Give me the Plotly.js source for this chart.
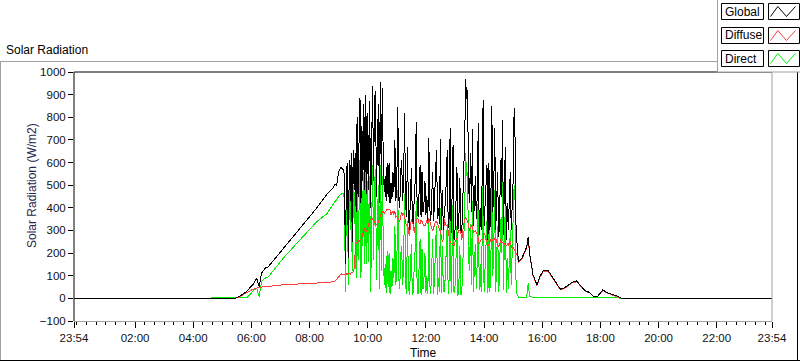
<!DOCTYPE html>
<html><head><meta charset="utf-8">
<script src="https://cdn.plot.ly/plotly-3.0.1.min.js"></script>
<style>html,body{margin:0;padding:0;background:#fff;}#chart{width:800px;height:361px;}
#chart .scatterlayer path{shape-rendering:crispEdges;}</style>
</head><body><div id="chart"></div>
<script>
// Time of day in minutes after midnight (23:54 of the previous day = -6)
const timeMinutes = [
 -6, 326,
 336, 350, 358, 363, 371, 376, 381, 388, 395, 426, 460, 495, 516, 529, 533, 536, 540, 545, 549, 552,
 554, 556, 558, 560, 562, 564, 566, 568, 570, 572,
 574, 576, 578, 580, 582, 584, 586, 588, 590, 592,
 594, 596, 598, 600, 602, 604, 606, 608, 610, 612,
 614, 616, 618, 620, 622, 624, 626, 628, 630, 632,
 634, 636, 638, 640, 642, 644, 646, 648, 650, 652,
 654, 656, 658, 660, 662, 664, 666, 668, 670, 672,
 674, 676, 678, 680, 682, 684, 686, 688, 690, 692,
 694, 696, 698, 700, 702, 704, 706, 708, 710, 712,
 714, 716, 718, 720, 722, 724, 726, 728, 730, 732,
 734, 736, 738, 740, 742, 744, 746, 748, 750, 752,
 754, 756, 758, 760, 762, 764, 766, 768, 770, 772,
 774, 776, 778, 780, 782, 784, 786, 788, 790, 792,
 794, 796, 798, 800, 802, 804, 806, 808, 810, 812,
 814, 816, 818, 820, 822, 824, 826, 828, 830, 832,
 834, 836, 838, 840, 842, 844, 846, 848, 850, 852,
 854, 856, 858, 860, 862, 864, 866, 868, 870, 872,
 874, 876, 878, 880, 882, 884, 886, 888, 890, 892,
 894, 896, 898, 900, 902, 904, 906, 908,
 911, 918, 925, 928, 931, 934, 941, 949, 955, 962, 973, 978, 986, 997, 1005,
 1014, 1021, 1031, 1038, 1048, 1058, 1066, 1074, 1085, 1093, 1104, 1114, 1124, 1434
];
const globalWm2 = [
 0, 0,
 10, 30, 50, 60, 89, 52, 111, 133, 140, 220, 310, 400, 460, 490, 505, 500, 560, 578, 570, 545,
 150, 560, 600, 180, 610, 430, 640, 250, 655, 480,
 640, 380, 803, 450, 690, 884, 420, 760, 520, 860,
 480, 900, 460, 820, 480, 870, 400, 700, 938, 520,
 880, 918, 450, 700, 860, 420, 957, 500, 930, 620,
 470, 540, 430, 600, 450, 598, 420, 510, 440, 560,
 470, 700, 430, 520, 847, 440, 400, 560, 610, 430,
 520, 818, 420, 360, 670, 380, 300, 450, 575, 360,
 330, 450, 520, 780, 380, 360, 450, 590, 360, 560,
 380, 420, 520, 370, 450, 340, 707, 400, 340, 480,
 560, 340, 420, 560, 656, 350, 400, 330, 705, 300,
 480, 300, 380, 420, 520, 655, 310, 360, 751, 290,
 450, 678, 260, 300, 420, 582, 300, 350, 530, 300,
 290, 420, 560, 700, 968, 880, 920, 500, 420, 640,
 380, 750, 320, 420, 540, 350, 460, 775, 280, 400,
 300, 520, 875, 320, 400, 470, 590, 260, 600, 300,
 420, 850, 380, 500, 751, 300, 400, 560, 270, 330,
 611, 450, 790, 280, 520, 670, 260, 420, 300, 480,
 560, 300, 420, 520, 840, 700, 300, 250,
 162, 177, 214, 228, 273, 200, 104, 60, 96, 123, 121, 105, 82, 41, 45,
 60, 70, 77, 60, 34, 26, 8, 8, 38, 26, 18, 11, 0, 0
];
const diffuseWm2 = [
 0, 0,
 8, 23, 35, 40, 45, 50, 50, 52, 52, 60, 64, 67, 70, 74, 78, 85, 95, 108, 106, 104,
 110, 108, 106, 112, 110, 108, 115, 112, 118, 130,
 200, 245, 250, 255, 250, 255, 260, 270, 285, 300,
 310, 305, 295, 310, 330, 345, 350, 355, 350, 345,
 340, 335, 330, 320, 340, 360, 365, 375, 380, 385,
 375, 380, 390, 395, 392, 395, 390, 370, 380, 385,
 370, 385, 360, 362, 355, 350, 340, 360, 380, 370,
 375, 360, 340, 320, 330, 300, 275, 320, 345, 350,
 310, 290, 320, 340, 355, 350, 330, 330, 345, 340,
 330, 320, 320, 340, 345, 330, 355, 340, 320, 310,
 300, 310, 330, 340, 340, 330, 320, 300, 300, 270,
 250, 260, 350, 330, 320, 320, 290, 270, 250, 245,
 240, 235, 230, 250, 260, 265, 290, 300, 300, 290,
 260, 300, 330, 345, 360, 350, 340, 320, 300, 310,
 320, 320, 290, 295, 300, 290, 280, 270, 240, 250,
 260, 260, 260, 290, 280, 260, 250, 230, 240, 250,
 260, 250, 265, 270, 260, 270, 250, 240, 230, 235,
 260, 250, 245, 240, 240, 250, 230, 240, 235, 245,
 255, 230, 220, 225, 215, 210, 200, 190,
 158, 172, 208, 222, 262, 195, 100, 57, 92, 118, 117, 101, 79, 39, 43,
 57, 67, 74, 57, 32, 24, 7, 7, 35, 24, 16, 10, 0, 0
];
const directWm2 = [
 0, 0,
 0, 2, 18, 32, 45, 8, 74, 89, 95, 178, 258, 339, 375, 420, 430, 435, 450, 460, 464, 440,
 30, 450, 470, 60, 480, 300, 490, 120, 500, 330,
 490, 90, 560, 170, 480, 610, 90, 500, 230, 560,
 150, 590, 150, 520, 160, 540, 30, 380, 590, 170,
 500, 570, 80, 350, 500, 40, 590, 120, 540, 250,
 60, 150, 25, 210, 50, 200, 20, 120, 50, 180,
 90, 320, 60, 150, 480, 90, 40, 190, 230, 60,
 150, 460, 60, 20, 340, 60, 15, 120, 240, 15,
 30, 150, 220, 430, 20, 20, 130, 260, 15, 220,
 40, 90, 200, 25, 100, 20, 350, 60, 20, 170,
 260, 20, 100, 250, 320, 15, 90, 30, 400, 25,
 230, 30, 30, 100, 200, 330, 20, 90, 490, 25,
 200, 420, 25, 50, 170, 320, 10, 60, 230, 15,
 25, 130, 230, 380, 640, 540, 560, 180, 120, 330,
 60, 430, 30, 120, 240, 40, 170, 500, 35, 150,
 30, 260, 520, 30, 140, 200, 340, 25, 340, 30,
 150, 560, 100, 230, 480, 30, 150, 320, 30, 90,
 350, 200, 520, 35, 270, 420, 25, 180, 40, 230,
 300, 60, 180, 300, 500, 430, 60, 20,
 5, 5, 5, 6, 67, 8, 5, 5, 5, 5, 5, 4, 4, 4, 4,
 4, 4, 4, 4, 4, 4, 3, 3, 3, 3, 3, 3, 0, 0
];
const seriesNames = ['Global', 'Diffuse', 'Direct'];
const xTickVals = [-6, 120, 240, 360, 480, 600, 720, 840, 960, 1080, 1200, 1320, 1434];
const xTickText = ['23:54', '02:00', '04:00', '06:00', '08:00', '10:00', '12:00', '14:00', '16:00', '18:00', '20:00', '22:00', '23:54'];

const COL = {Global: '#000000', Diffuse: '#ff3b3b', Direct: '#00ee00'};
const FONT = 'Liberation Sans, Arial, sans-serif';

// plot area in pixels
const L = 74, R = 772, T = 72, Bt = 321;
const px = x => (x - L) / (R - L);
const py = y => (Bt - y) / (Bt - T);

function hline(y, x0, x1, color) {
  return {type: 'line', xref: 'paper', yref: 'paper', x0: px(x0), x1: px(x1), y0: py(y), y1: py(y),
          line: {color: color, width: 1}, layer: 'above'};
}
function vline(x, y0, y1, color) {
  return {type: 'line', xref: 'paper', yref: 'paper', x0: px(x), x1: px(x), y0: py(y0), y1: py(y1),
          line: {color: color, width: 1}, layer: 'above'};
}
function rect(x0, y0, x1, y1, lineColor, fill) {
  return {type: 'rect', xref: 'paper', yref: 'paper', x0: px(x0), x1: px(x1), y0: py(y1), y1: py(y0),
          line: {color: lineColor || 'rgba(0,0,0,0)', width: lineColor ? 1 : 0}, fillcolor: fill, layer: 'above'};
}
function zigzag(x0, y0, x1, y1, color) {
  const w = x1 - x0;
  const pts = [[x0 + 2, y1 - 3], [x0 + 0.3 * w, y0 + 3], [x0 + 0.58 * w, y1 - 3], [x0 + 0.87 * w, y0 + 3]];
  const d = 'M ' + pts.map(p => px(p[0]) + ',' + py(p[1])).join(' L ');
  return {type: 'path', xref: 'paper', yref: 'paper', path: d, line: {color: color, width: 1}, layer: 'above'};
}

const shapes = [
  hline(61.5, 0, 717, '#a0a0a0'),
  vline(0.5, 61, 361, '#a0a0a0'),
  hline(360.5, 0, 800, '#000000'),
  vline(797.5, 61, 361, '#000000'),
  hline(72, 74, 772, '#000000'),
  vline(74, 72, 321, '#000000'),
  hline(321.5, 74, 772, '#a0a0a0'),
  vline(772, 72, 321, '#a0a0a0'),
  rect(717, -2, 802, 72, null, '#ffffff'),
  vline(717.5, -2, 72, '#a0a0a0'),
  hline(72, 717, 802, '#a0a0a0')
];
const legendRows = [[3, 19], [27, 43], [50, 66]];
const annotations = [];
seriesNames.forEach((name, i) => {
  const [y0, y1] = legendRows[i];
  shapes.push(rect(721.5, y0 + 0.5, 763.5, y1 + 0.5, '#000000', '#ffffff'));
  shapes.push(rect(768.5, y0 + 0.5, 799.5, y1 + 0.5, '#000000', '#ffffff'));
  shapes.push(zigzag(768.5, y0 + 0.5, 799.5, y1 + 0.5, COL[name]));
  annotations.push({xref: 'paper', yref: 'paper', x: px(723), y: py((y0 + y1) / 2 + 0.5), xanchor: 'left', yanchor: 'middle',
    text: name, showarrow: false, font: {family: FONT, size: 12, color: '#000'}});
});
annotations.push({xref: 'paper', yref: 'paper', x: px(4), y: py(50), xanchor: 'left', yanchor: 'middle',
  text: 'Solar Radiation', showarrow: false, font: {family: FONT, size: 12, color: '#000'}});
annotations.push({xref: 'paper', yref: 'paper', x: px(32), y: py(186), xanchor: 'center', yanchor: 'middle', textangle: -90,
  text: 'Solar Radiation (W/m2)', showarrow: false, font: {family: FONT, size: 12, color: '#26264f'}});
annotations.push({xref: 'paper', yref: 'paper', x: px(423), y: py(353), xanchor: 'center', yanchor: 'middle',
  text: 'Time', showarrow: false, font: {family: FONT, size: 12, color: '#000'}});

const seriesData = {Global: globalWm2, Diffuse: diffuseWm2, Direct: directWm2};
const drawOrder = ['Direct', 'Diffuse', 'Global'];
const traces = drawOrder.map(name => ({
  type: 'scatter', mode: 'lines', name: name, x: timeMinutes, y: seriesData[name],
  line: {color: COL[name], width: 1}, hoverinfo: 'skip'
}));

const layout = {
  width: 800, height: 361,
  margin: {l: L, r: 800 - R, t: T, b: 361 - Bt},
  paper_bgcolor: '#ffffff', plot_bgcolor: '#ffffff',
  showlegend: false,
  font: {family: FONT, size: 12, color: '#111'},
  xaxis: {
    range: [-6, 1434], tickmode: 'array', tickvals: xTickVals, ticktext: xTickText,
    ticks: 'outside', ticklen: 6, tickcolor: '#000', tickwidth: 1,
    showgrid: false, zeroline: false, showline: false,
    tickfont: {family: FONT, size: 11.5, color: '#111'},
    minor: {tickmode: 'linear', tick0: 0, dtick: 20, ticks: 'outside', ticklen: 3, tickcolor: '#000', showgrid: false}
  },
  yaxis: {
    range: [-100, 1000], dtick: 100, tick0: 0,
    ticks: 'outside', ticklen: 5, tickcolor: '#000', tickwidth: 1,
    showgrid: false, zeroline: false, showline: false,
    tickfont: {family: FONT, size: 11.5, color: '#111'}
  },
  shapes: shapes,
  annotations: annotations
};

Plotly.newPlot('chart', traces, layout, {staticPlot: true, displayModeBar: false});
</script>
</body></html>
